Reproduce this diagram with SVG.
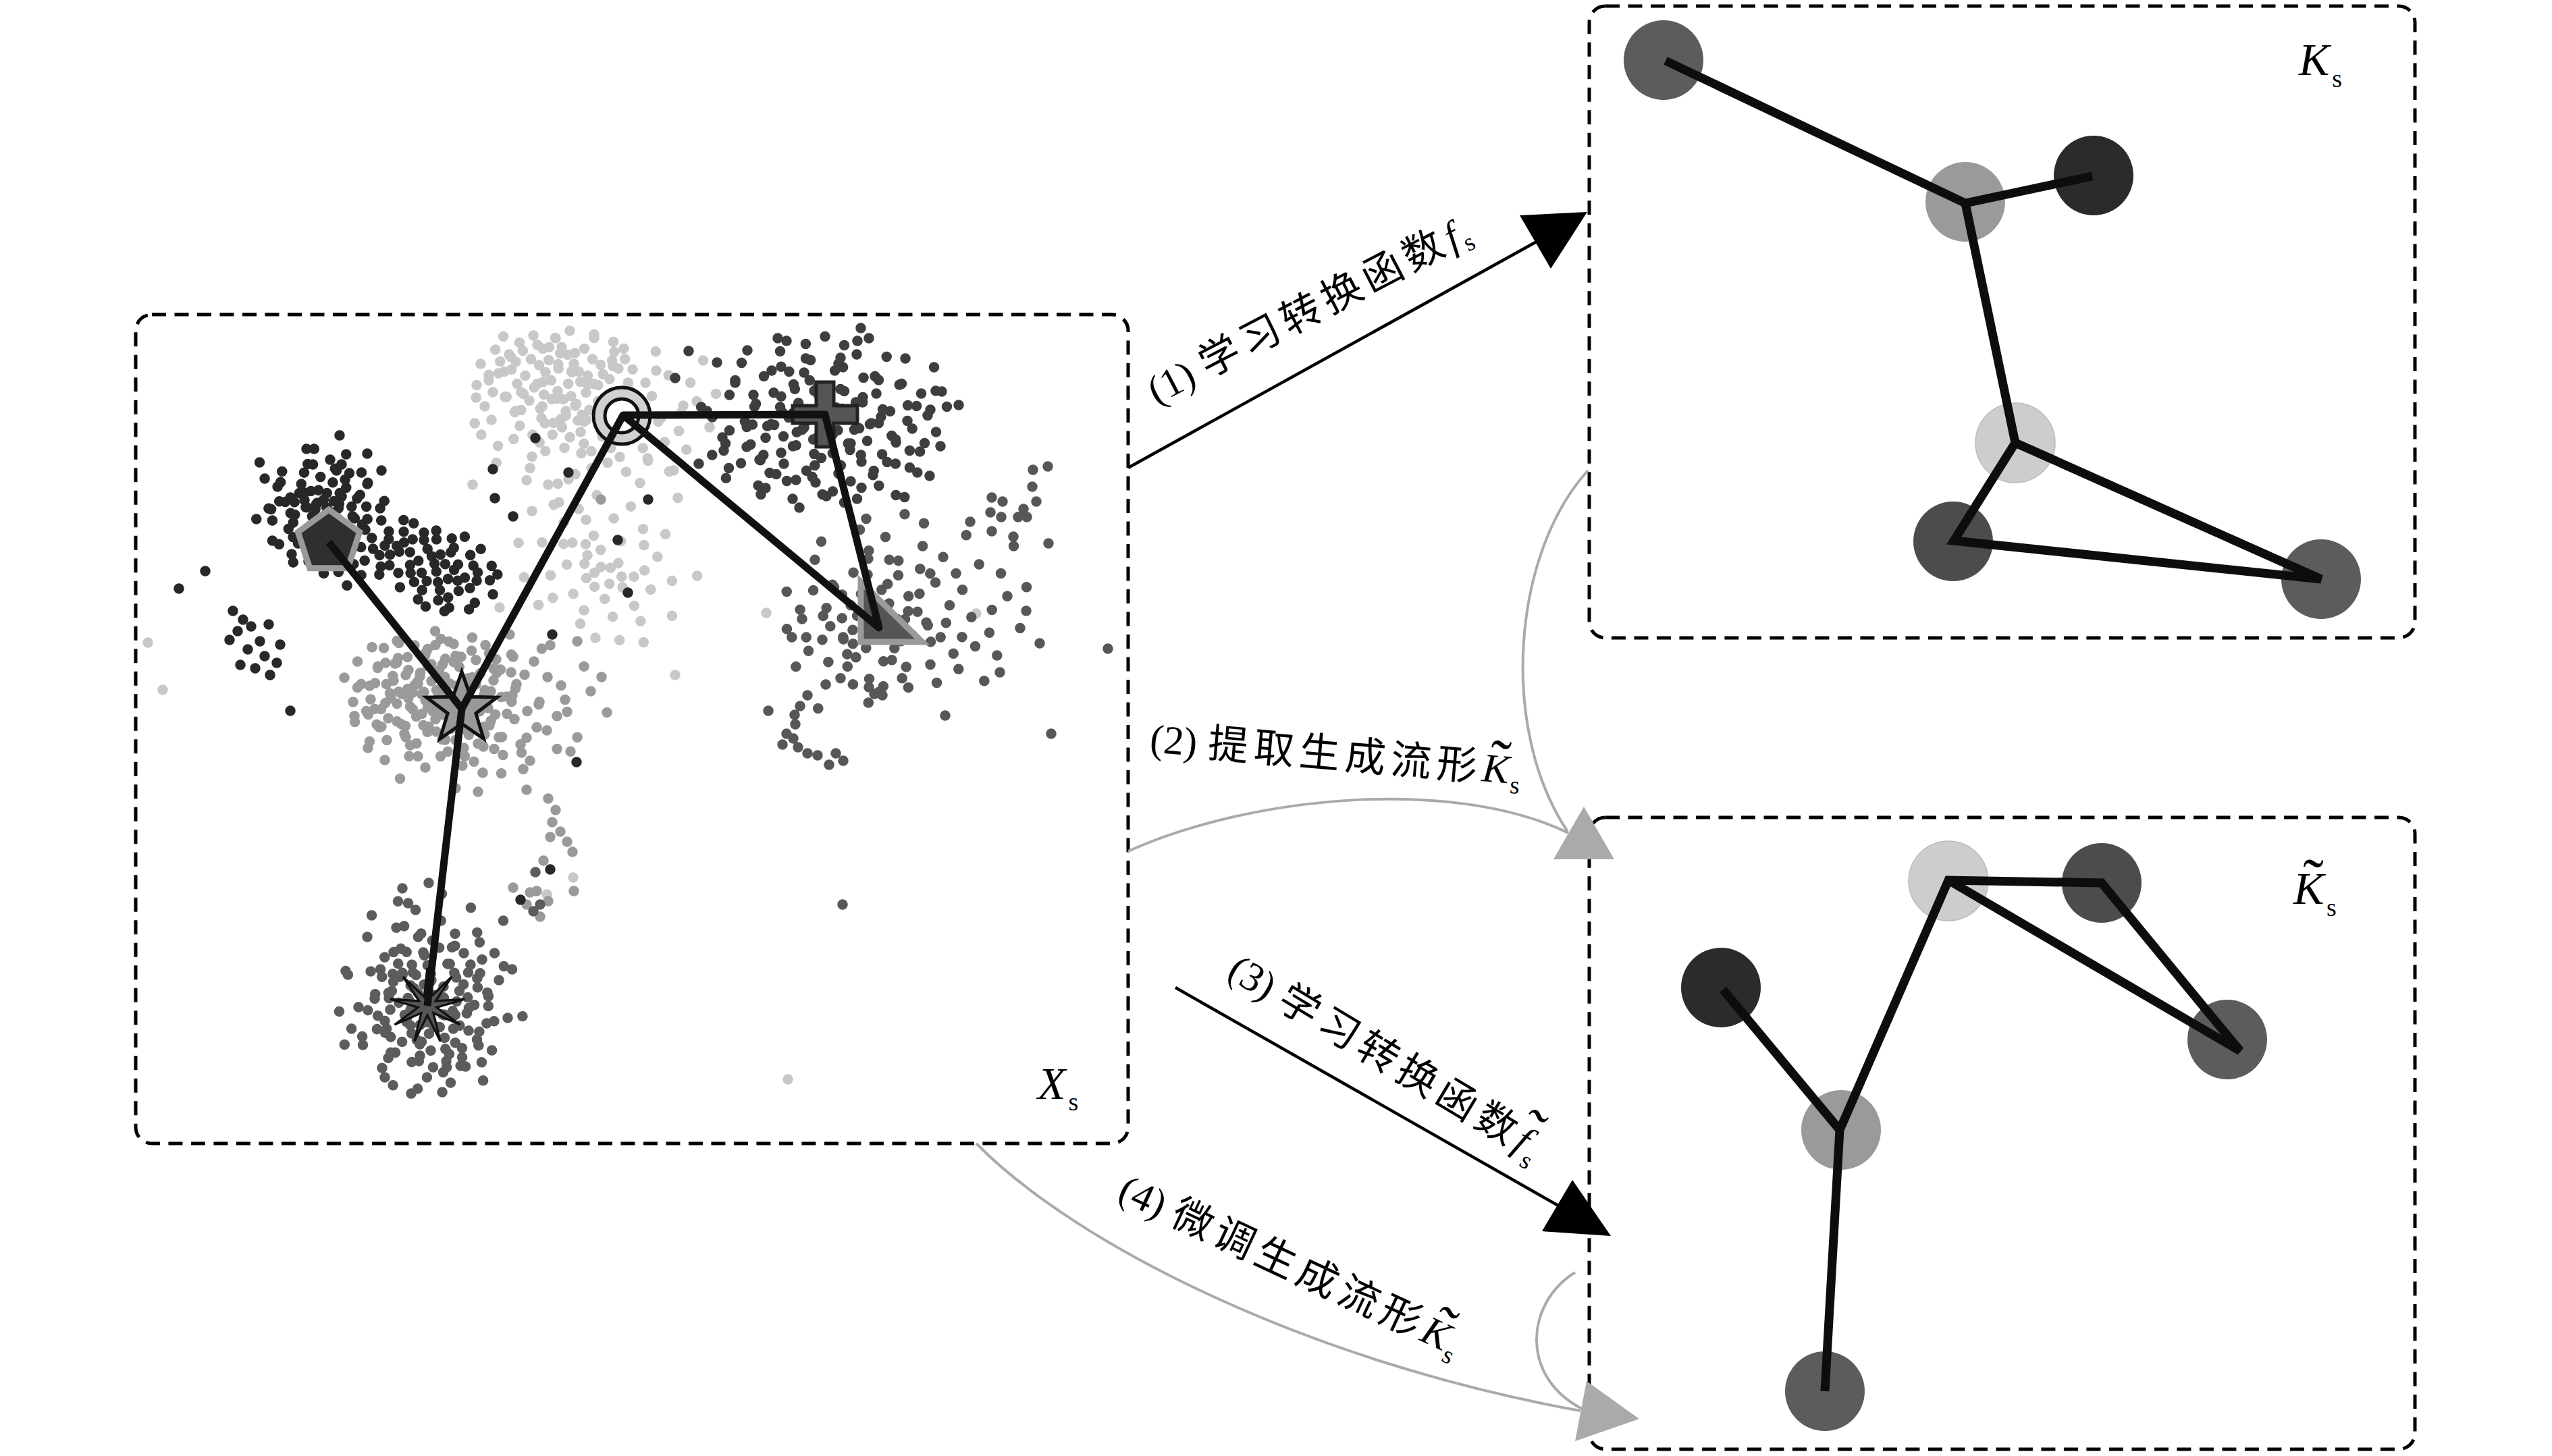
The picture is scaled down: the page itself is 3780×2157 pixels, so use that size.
<svg xmlns="http://www.w3.org/2000/svg" xmlns:xlink="http://www.w3.org/1999/xlink" width="3780" height="2157" viewBox="0 0 3780 2157">
<style>
.box{fill:none;stroke:#000;stroke-width:5;stroke-dasharray:21 12.5}
.edge{fill:none;stroke:#111;stroke-width:11;stroke-linecap:butt;stroke-linejoin:round}
.kedge{fill:none;stroke:#0d0d0d;stroke-width:13;stroke-linecap:butt;stroke-linejoin:miter}
.arrow{fill:none;stroke:#000;stroke-width:4.5}
.garrow{fill:none;stroke:#aaa;stroke-width:4}
.head{fill:#000}
.ghead{fill:#aaa}
.lab{font-family:"Liberation Serif","Noto Sans CJK SC",serif;font-size:60px;fill:#000}
.cjk{font-family:"Noto Sans CJK SC",sans-serif;letter-spacing:8px}
.mi{font-style:italic}
.sb{font-size:37px;font-style:normal}
.tl{font-size:92px;font-style:normal}
.bl{font-family:"Liberation Serif",serif;font-size:68px;fill:#000}
.bs{font-size:38px;font-style:normal}
.dots{fill:none;stroke-width:15.5;stroke-linecap:round}
</style>
<defs>
<path id="b1" vector-effect="non-scaling-stroke" stroke-linecap="round" fill="none" d="M3 -5h.01M-22 14h.01M18 27h.01M-40 -31h.01M45 -12h.01M-8 52h.01M30 -48h.01M-61 8h.01M66 35h.01M-15 -70h.01M10 12h.01M-33 -8h.01M52 18h.01M-5 -28h.01M24 -20h.01M-48 40h.01M38 58h.01M-70 -45h.01M80 -5h.01M-2 85h.01M-25 30h.01M14 -60h.01M58 -40h.01M-55 -15h.01M6 38h.01M-12 -45h.01M35 5h.01M-38 62h.01M72 60h.01M-80 20h.01M20 70h.01M-65 -65h.01M48 -72h.01M-30 -90h.01M90 30h.01M-92 -10h.01M0 -95h.01M62 88h.01M-50 85h.01M85 -60h.01M-18 -12h.01M28 40h.01M-42 5h.01M12 -35h.01M-6 20h.01M40 -30h.01M-28 -55h.01M55 50h.01M-58 28h.01M25 90h.01M-10 65h.01M68 10h.01M-75 55h.01M42 75h.01M-35 -78h.01M75 -30h.01M-88 40h.01M15 -85h.01M95 -15h.01M-20 100h.01"/>
<path id="b2" vector-effect="non-scaling-stroke" stroke-linecap="round" fill="none" d="M0 0h.01M15 -18h.01M-20 -5h.01M33 10h.01M-8 25h.01M-35 22h.01M22 38h.01M-25 -35h.01M45 -28h.01M5 -48h.01M-50 -2h.01M55 25h.01M-12 55h.01M30 -60h.01M-45 48h.01M62 -8h.01M-62 -30h.01M8 68h.01M40 55h.01M-30 75h.01M70 40h.01M-72 12h.01M20 -80h.01M-15 -72h.01M50 -55h.01M-55 -58h.01M78 -35h.01M-82 -45h.01M12 88h.01M-40 95h.01M85 65h.01M-95 30h.01M35 95h.01M-5 -100h.01M60 80h.01M98 10h.01M-70 70h.01M45 -90h.01M-90 -75h.01M100 -60h.01M-3 12h.01M10 -6h.01M-18 8h.01M26 -3h.01M-28 -18h.01M5 30h.01M18 15h.01M-10 -22h.01M38 -12h.01M-42 -10h.01"/>
</defs>
<rect width="3780" height="2157" fill="#fff"/>

<g id="node-Xs">
<rect class="box" x="201" y="466" width="1470" height="1228" rx="24"/>
<g id="scatter" stroke-width="15.5">
<g stroke="#c8c8c8">
<use xlink:href="#b1" transform="translate(880,600) scale(1.9,1.1)"/>
<use xlink:href="#b1" transform="translate(820,560) rotate(180) scale(1.2,0.7)"/>
<use xlink:href="#b2" transform="translate(860,640) rotate(180) scale(1.6,1.3)"/>
<use xlink:href="#b2" transform="translate(890,840) rotate(30) scale(1.3,1.0)"/>
<path class="dots" d="M219 952h.01M241 1022h.01M1167 1599h.01M849 1300h.01M1135 908h.01M1446 909h.01M810 1325h.01M740 900h.01M1000 1000h.01"/>
</g>
<g stroke="#9a9a9a">
<use xlink:href="#b2" transform="translate(650,1030) scale(1.1,0.95)"/>
<use xlink:href="#b1" transform="translate(640,1020) rotate(90) scale(0.8,1.3)"/>
<use xlink:href="#b1" transform="translate(715,1045) rotate(180) scale(2.0,1.05)"/>
<use xlink:href="#b2" transform="translate(690,1060) rotate(90) scale(1.1,1.5)"/>
<path class="dots" d="M708 1173h.01M812 1183h.01M823 1200h.01M818 1218h.01M830 1232h.01M840 1247h.01M815 1240h.01M848 1262h.01M805 1275h.01M795 1320h.01M812 1335h.01M780 1340h.01M800 1358h.01M760 1315h.01M850 1320h.01M890 740h.01M855 950h.01M785 1322h.01"/>
</g>
<g stroke="#282828">
<use xlink:href="#b2" transform="translate(470,745) scale(0.95,0.8)"/>
<use xlink:href="#b1" transform="translate(495,770) rotate(30) scale(1.05,0.85)"/>
<use xlink:href="#b1" transform="translate(650,845) rotate(200) scale(0.95,0.6)"/>
<path class="dots" d="M345 905h.01M360 918h.01M352 935h.01M372 928h.01M385 950h.01M367 962h.01M392 972h.01M378 990h.01M400 1000h.01M410 982h.01M340 948h.01M398 925h.01M415 955h.01M356 985h.01M304 846h.01M265 872h.01M430 1053h.01M503 645h.01M454 665h.01M544 672h.01M733 738h.01M760 765h.01M793 649h.01M730 695h.01M842 700h.01M854 1129h.01M818 940h.01M915 800h.01M930 878h.01M960 740h.01M771 1333h.01M815 1288h.01"/>
</g>
<g stroke="#3e3e3e">
<use xlink:href="#b1" transform="translate(1222,622) scale(1.9,1.3)"/>
<use xlink:href="#b2" transform="translate(1215,615) rotate(180) scale(1.8,1.2)"/>
<use xlink:href="#b1" transform="translate(1225,640) rotate(90) scale(1.1,1.7)"/>
<path class="dots" d="M1275 486h.01M1270 505h.01M1245 530h.01M1395 580h.01M1420 600h.01M1000 560h.01M1020 520h.01"/>
</g>
<g stroke="#575757">
<use xlink:href="#b1" transform="translate(1340,890) scale(1.9,1.35)"/>
<use xlink:href="#b2" transform="translate(1290,935) rotate(150) scale(1.25,1.0)"/>
<path class="dots" d="M1196 1030h.01M1185 1046h.01M1177 1059h.01M1178 1073h.01M1165 1087h.01M1175 1094h.01M1159 1103h.01M1182 1107h.01M1196 1116h.01M1211 1119h.01M1238 1116h.01M1249 1127h.01M1228 1133h.01M1138 1053h.01M1287 1018h.01M1295 1028h.01M1307 1030h.01M1481 996h.01M1540 953h.01M1641 961h.01M1557 1087h.01M1530 696h.01M1552 691h.01M1529 721h.01M1535 743h.01M1516 754h.01M1508 766h.01M1521 766h.01M1483 766h.01M1469 737h.01M1485 743h.01M1467 759h.01M1469 787h.01M1501 795h.01M1553 805h.01M1437 773h.01M1248 1340h.01M1520 905h.01M1400 1060h.01"/>
</g>
<g stroke="#5c5c5c">
<use xlink:href="#b1" transform="translate(635,1460) scale(1.3,1.6)"/>
<use xlink:href="#b2" transform="translate(628,1485) rotate(40) scale(1.25,1.3)"/>
<use xlink:href="#b1" transform="translate(640,1495) rotate(170) scale(0.9,1.0)"/>
<path class="dots" d="M793 1292h.01M800 1340h.01M790 1350h.01"/>
</g>
</g>
<g id="markers">
<polygon transform="translate(487,803)" points="0,-48 45.65,-14.83 28.21,38.83 -28.21,38.83 -45.65,-14.83" fill="#2f2f2f" stroke="#9a9a9a" stroke-width="9" stroke-linejoin="miter"/>
<polygon points="1275,862 1275,951 1366,951" fill="#555" stroke="#9a9a9a" stroke-width="9"/>
<polygon points="1209,566 1235,566 1235,601 1270,601 1270,627 1235,627 1235,662 1209,662 1209,627 1174,627 1174,601 1209,601" fill="#555" stroke="#222" stroke-width="5"/>
<circle cx="921" cy="616" r="42" fill="#d0d0d0" stroke="#111" stroke-width="5"/>
<circle cx="921" cy="616" r="25" fill="#fff" stroke="#111" stroke-width="5"/>
<polygon transform="translate(684,1050)" points="0,-55 12.93,-17.8 52.31,-17 20.92,6.8 32.33,44.5 0,22 -32.33,44.5 -20.92,6.8 -52.31,-17 -12.93,-17.8" fill="#999" stroke="#111" stroke-width="5"/>
<polygon transform="translate(633,1490) scale(1.08)" points="0,-52 4.4,-12.2 33.4,-39.8 11.3,-6.5 51.2,-9 12.8,2.3 45,26 8.4,10 17.8,48.9 0,13 -17.8,48.9 -8.4,10 -45,26 -12.8,2.3 -51.2,-9 -11.3,-6.5 -33.4,-39.8 -4.4,-12.2" fill="#555" stroke="#111" stroke-width="3"/>
</g>
<g id="xs-edges">
<path class="edge" d="M487 803L684 1050L923 615L1222 614L1302 930L923 615M684 1050L633 1490"/>
</g>
<text class="bl" x="1537" y="1628"><tspan class="mi">X</tspan><tspan class="bs" dx="4" dy="17">s</tspan></text>
</g>

<g id="node-Ks">
<rect class="box" x="2354" y="9" width="1223" height="936" rx="24"/>
<circle cx="2464" cy="89" r="59" fill="#5c5c5c"/>
<circle cx="2911" cy="299" r="59" fill="#9a9a9a"/>
<circle cx="3101" cy="260" r="59" fill="#2b2b2b"/>
<circle cx="2985" cy="656" r="59" fill="#cdcdcd" stroke="#bbb" stroke-width="1.5"/>
<circle cx="2893" cy="802" r="59" fill="#4c4c4c"/>
<circle cx="3438" cy="858" r="59" fill="#5c5c5c"/>
<path class="kedge" d="M2467 90L2911 301L3099 261M2911 301L2985 656L2894 801L3438 858L2985 656"/>
<text class="bl" x="3405" y="111"><tspan class="mi">K</tspan><tspan class="bs" dx="4" dy="18">s</tspan></text>
</g>

<g id="node-Kts">
<rect class="box" x="2354" y="1211" width="1223" height="936" rx="24"/>
<circle cx="2886" cy="1305" r="59" fill="#cdcdcd" stroke="#bbb" stroke-width="1.5"/>
<circle cx="3113" cy="1308" r="59" fill="#4c4c4c"/>
<circle cx="2549" cy="1463" r="59" fill="#2b2b2b"/>
<circle cx="3299" cy="1540" r="59" fill="#5c5c5c"/>
<circle cx="2727" cy="1674" r="59" fill="#9a9a9a"/>
<circle cx="2703" cy="2061" r="59" fill="#5c5c5c"/>
<path class="kedge" d="M2552 1466L2725 1674L2886 1304L3113 1308L3318 1557L2886 1304M2725 1674L2703 2061"/>
<text class="bl" x="3397" y="1339"><tspan class="mi">K</tspan><tspan class="tl" dx="-31" dy="-4">˜</tspan><tspan class="bs" dx="4" dy="22">s</tspan></text>
</g>

<g id="connectors">
<path class="arrow" d="M1671 693L2276 358"/>
<polygon class="head" points="2351,314 2251,319 2297,398"/>
<path class="garrow" d="M1671 1261C1850 1180 2150 1150 2323 1234"/>
<path class="garrow" d="M2352 697C2240 820 2220 1080 2322 1232"/>
<polygon class="ghead" points="2391,1273 2301,1273 2346,1195"/>
<path class="arrow" d="M1741 1463L2308 1786"/>
<polygon class="head" points="2386,1831 2329,1748 2284,1824"/>
<path class="garrow" d="M1446 1694C1600 1850 1950 2020 2341 2090"/>
<path class="garrow" d="M2333 1885C2260 1930 2250 2040 2345 2088"/>
<polygon class="ghead" points="2428,2102 2350,2046 2333,2135"/>
</g>

<g id="label-1" transform="translate(1713,600) rotate(-27.5)">
<text class="lab">(1)<tspan class="cjk" dx="16">学习转换函数</tspan><tspan class="mi" dx="0">f</tspan><tspan class="sb" dx="4" dy="12">s</tspan></text>
</g>
<g id="label-2" transform="translate(1702,1114) rotate(5)">
<text class="lab">(2)<tspan class="cjk" dx="16">提取生成流形</tspan><tspan class="mi">K</tspan><tspan class="tl" dx="-30" dy="0">˜</tspan><tspan class="sb" dx="2" dy="14">s</tspan></text>
</g>
<g id="label-3" transform="translate(1815,1447) rotate(31)">
<text class="lab">(3)<tspan class="cjk" dx="16">学习转换函数</tspan><tspan class="mi" dx="0">f</tspan><tspan class="tl" dx="-22" dy="-6">˜</tspan><tspan class="sb" dx="-4" dy="22">s</tspan></text>
</g>
<g id="label-4" transform="translate(1653,1776) rotate(25)">
<text class="lab">(4)<tspan class="cjk" dx="16">微调生成流形</tspan><tspan class="mi">K</tspan><tspan class="tl" dx="-30" dy="0">˜</tspan><tspan class="sb" dx="2" dy="14">s</tspan></text>
</g>
</svg>
